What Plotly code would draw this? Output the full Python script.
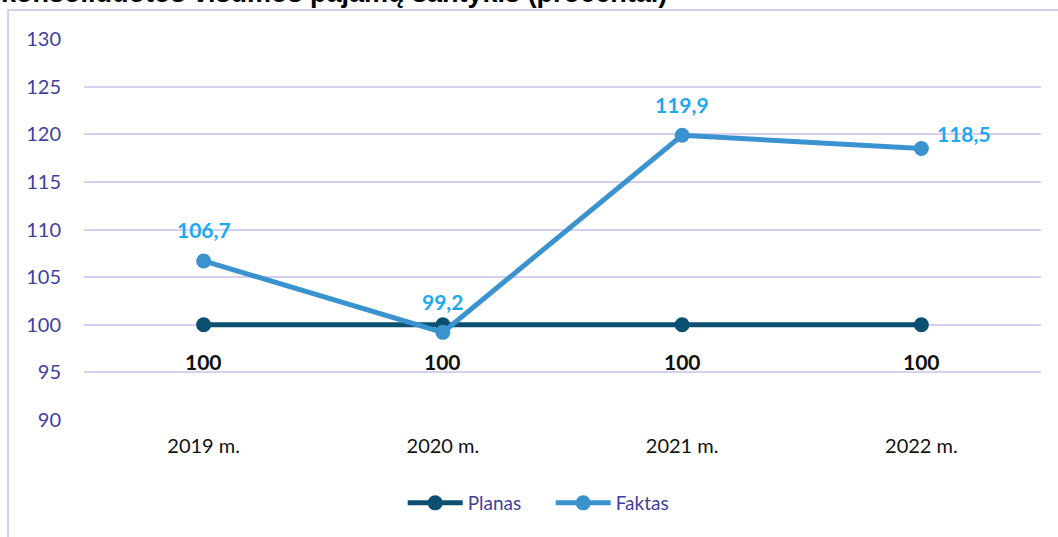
import plotly.graph_objects as go

categories = ["2019 m.", "2020 m.", "2021 m.", "2022 m."]
planas = [100, 100, 100, 100]
faktas = [106.7, 99.2, 119.9, 118.5]
planas_labels = ["100", "100", "100", "100"]
faktas_labels = ["106,7", "99,2", "119,9", "118,5"]
y_ticks = [90, 95, 100, 105, 110, 115, 120, 125, 130]
title_text = "konsoliduotos visumos pajamų santykis (procentai)"

PLAN_COLOR = "#0B4F71"
FAKT_COLOR = "#3A93CF"
FAKT_LABEL = "#1EA8F0"
TICK_COLOR = "#3F3FA0"
GRID_COLOR = "#D4D0EE"
FONT = "Lato, Open Sans, sans-serif"

fig = go.Figure()
fig.add_trace(go.Scatter(
    x=categories, y=planas, name="Planas", mode="lines+markers",
    line=dict(color=PLAN_COLOR, width=5),
    marker=dict(color=PLAN_COLOR, size=15),
))
fig.add_trace(go.Scatter(
    x=categories, y=faktas, name="Faktas", mode="lines+markers",
    line=dict(color=FAKT_COLOR, width=5),
    marker=dict(color=FAKT_COLOR, size=15),
))

for c, v, t in zip(categories, planas, planas_labels):
    fig.add_annotation(x=c, y=v, text=f"<b>{t}</b>", showarrow=False,
                       yshift=-37, font=dict(family=FONT, size=21, color="#111111"))
for i, (c, v, t) in enumerate(zip(categories, faktas, faktas_labels)):
    if i == len(categories) - 1:
        fig.add_annotation(x=c, y=v, text=f"<b>{t}</b>", showarrow=False,
                           xshift=43, yshift=15, font=dict(family=FONT, size=21, color=FAKT_LABEL))
    else:
        fig.add_annotation(x=c, y=v, text=f"<b>{t}</b>", showarrow=False,
                           yshift=31, font=dict(family=FONT, size=21, color=FAKT_LABEL))

# Title (cut off at the top in the original)
fig.add_annotation(xref="paper", yref="paper", x=-0.0885, y=1.122, xanchor="left", yanchor="middle",
                   text=f"<b>{title_text}</b>", showarrow=False,
                   font=dict(family="Liberation Sans, Arial, sans-serif", size=27, color="#000000"))

# Chart frame
fig.add_shape(type="rect", xref="paper", yref="paper", x0=-0.0794, y0=-0.33, x1=1.03, y1=1.076,
              line=dict(color=GRID_COLOR, width=2), layer="below")

fig.update_layout(
    width=1058, height=537,
    margin=dict(l=84, r=17, t=39, b=117),
    paper_bgcolor="white", plot_bgcolor="white",
    showlegend=True,
    legend=dict(orientation="h", x=0.333, y=-0.168, xanchor="left", yanchor="top",
                font=dict(family=FONT, size=19, color=TICK_COLOR), itemwidth=55, entrywidth=78),
    xaxis=dict(type="category", range=[-0.5, 3.5], showgrid=False, zeroline=False,
               showline=False, ticks="", tickfont=dict(family=FONT, size=20, color="#111111"),
               ticklabelstandoff=12),
    yaxis=dict(range=[90, 130], tickvals=y_ticks, showgrid=True, gridcolor=GRID_COLOR, gridwidth=2,
               zeroline=False, showline=False, ticks="",
               tickfont=dict(family=FONT, size=20, color=TICK_COLOR), ticklabelstandoff=22),
)

fig.write_html("out.html", config={"displayModeBar": False},
               post_script="document.body.style.margin='0';")
